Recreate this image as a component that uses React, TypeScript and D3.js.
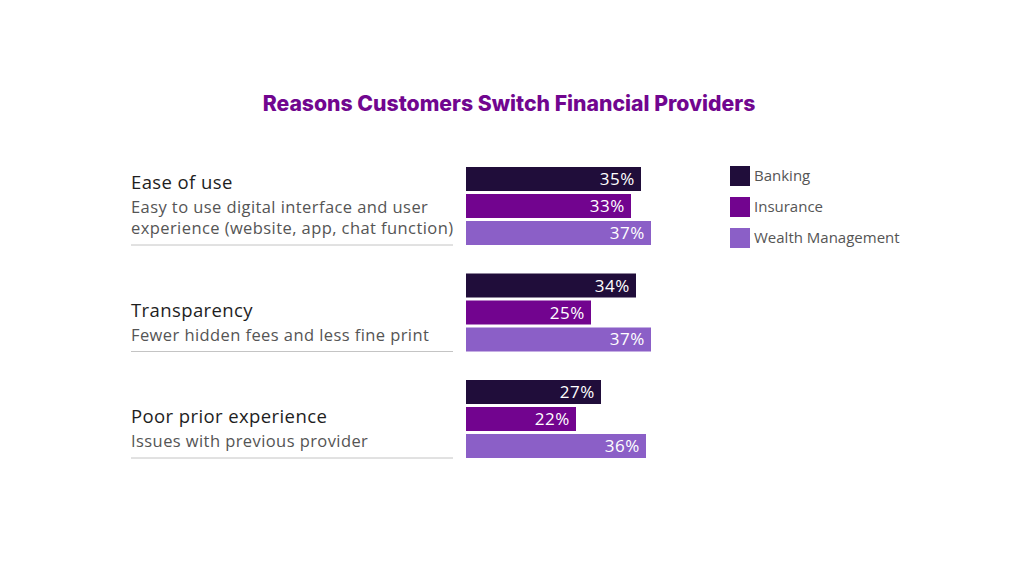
import React from "react";
import * as d3 from "d3";

const categories = ["Ease of use", "Transparency", "Poor prior experience"];
const subtitles = [
  ["Easy to use digital interface and user", "experience (website, app, chat function)"],
  ["Fewer hidden fees and less fine print"],
  ["Issues with previous provider"],
];
const seriesNames = ["Banking", "Insurance", "Wealth Management"];
const banking = [35, 34, 27];
const insurance = [33, 25, 22];
const wealth = [37, 37, 36];
const colors = ["#200d3a", "#72048f", "#8b5fc7"];

export default function App() {
  const W = 1023;
  const H = 576;
  const values = [banking, insurance, wealth];
  const x = d3.scaleLinear().domain([0, 100]).range([466, 966]);
  const yGroup = d3.scaleBand<string>().domain(categories).range([167, 167 + 3 * 106.5]);
  const yInner = d3.scaleBand<string>().domain(seriesNames).range([0, 78]).paddingInner(0.111);
  const font = "'Open Sans', 'Noto Sans', sans-serif";

  return (
    <svg width={W} height={H} style={{ position: "absolute", left: 0, top: 0, background: "#fff" }}>
      <rect width={W} height={H} fill="#fff" />
      <text x={509} y={111} textAnchor="middle" fontFamily="Inter, 'Noto Sans', sans-serif" fontWeight={800} fontSize={21.2} fill="#71068f">
        Reasons Customers Switch Financial Providers
      </text>
      {categories.map((c, i) => {
        const y0 = yGroup(c)!;
        const subs = subtitles[i];
        const lastSub = y0 + 67;
        const firstSub = lastSub - (subs.length - 1) * 21;
        return (
          <g key={c}>
            <text x={131} y={firstSub - 24} fontFamily={font} fontSize={18.5} letterSpacing={0.4} fill="#1e1e1e">{c}</text>
            {subs.map((s, j) => (
              <text key={j} x={131} y={firstSub + j * 21} fontFamily={font} fontSize={16.5} letterSpacing={0.42} fill="#555">{s}</text>
            ))}
            <line x1={131} x2={453} y1={y0 + 78} y2={y0 + 78} stroke="#c4c4c4" strokeWidth={1} />
            {seriesNames.map((s, k) => {
              const v = values[k][i];
              const by = y0 + yInner(s)!;
              return (
                <g key={s}>
                  <rect x={x(0)} y={by} width={x(v) - x(0)} height={yInner.bandwidth()} fill={colors[k]} />
                  <text x={x(v) - 6} y={by + yInner.bandwidth() / 2 + 6} textAnchor="end" fontFamily={font} fontSize={17} letterSpacing={0.6} fill="#fff">
                    {v}%
                  </text>
                </g>
              );
            })}
          </g>
        );
      })}
      {seriesNames.map((s, k) => (
        <g key={s} transform={`translate(730, ${166 + k * 31})`}>
          <rect width={20} height={20} fill={colors[k]} />
          <text x={24} y={15} fontFamily={font} fontSize={15} fill="#555">{s}</text>
        </g>
      ))}
    </svg>
  );
}
